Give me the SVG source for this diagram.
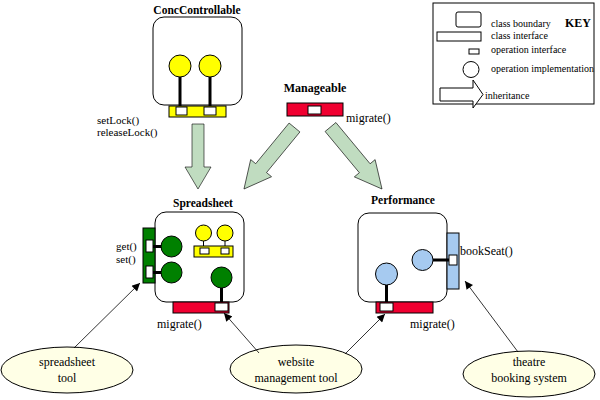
<svg xmlns="http://www.w3.org/2000/svg" width="600" height="400" viewBox="0 0 600 400">
<style>
text{font-family:"Liberation Serif","Times New Roman",serif;fill:#000}
.t{font-size:11.5px;font-weight:bold;text-anchor:middle}
.l{font-size:12px}
.s{font-size:11px}
.k{font-size:10px}
.c{font-size:12px;text-anchor:middle}
.box{fill:#fff;stroke:#000;stroke-width:1}
.sq{fill:#fff;stroke:#000;stroke-width:1}
.stem{stroke:#000;stroke-width:3}
.thin{stroke:#000;stroke-width:1}
.inh{fill:#c0dcc0;stroke:#000;stroke-width:0.6}
.use{fill:#ffffe6;stroke:#000;stroke-width:1}
.red{fill:#f00030;stroke:#000;stroke-width:1}
.yel{fill:#ffff00;stroke:#000;stroke-width:1}
.grn{fill:#008000;stroke:#000;stroke-width:1}
.blu{fill:#a6caf0;stroke:#000;stroke-width:1}
.con{stroke:#000;stroke-width:0.8;fill:none}
</style>
<defs>
<marker id="ah" viewBox="0 0 10 10" refX="10" refY="5" markerWidth="10" markerHeight="8" markerUnits="userSpaceOnUse" orient="auto">
<path d="M0,0 L10,5 L0,10 z" fill="#000"/>
</marker>
</defs>

<g id="key">
<rect x="433" y="3" width="161" height="101" fill="#fff" stroke="#000" stroke-width="1"/>
<rect x="456" y="12" width="25" height="15" rx="2" class="box"/>
<text x="491" y="27" class="k">class boundary</text>
<text x="565" y="27" style="font-size:12px;font-weight:bold">KEY</text>
<rect x="437" y="32" width="44" height="9" class="box"/>
<text x="491" y="39" class="k">class interface</text>
<rect x="469" y="49" width="10" height="5" class="box"/>
<text x="491" y="53" class="k">operation interface</text>
<ellipse cx="471" cy="69.5" rx="8" ry="8" class="box"/>
<text x="491" y="72" class="k">operation implementation</text>
<polygon points="440,88 473,88 473,80 483,94.5 473,108 473,101 440,101" class="box"/>
<text x="485" y="99" class="k">inheritance</text>
</g>

<g id="ConcControllable">
<text x="197" y="14" class="t">ConcControllable</text>
<rect x="153" y="17" width="89" height="88" rx="11" class="box"/>
<line x1="180" y1="77" x2="180" y2="107" class="stem"/>
<line x1="210" y1="77" x2="210" y2="107" class="stem"/>
<circle cx="180" cy="66" r="11" class="yel"/>
<circle cx="210" cy="66" r="11" class="yel"/>
<rect x="169" y="106" width="57" height="11" class="yel"/>
<rect x="176" y="107" width="11" height="8" class="sq"/>
<rect x="204" y="107" width="12" height="8" class="sq"/>
<text x="97" y="124" class="s">setLock()</text>
<text x="97" y="136" class="s">releaseLock()</text>
</g>

<g id="Manageable">
<text x="315" y="92" class="t" style="font-size:12px">Manageable</text>
<rect x="287" y="103" width="56" height="13" class="red"/>
<rect x="308" y="106" width="13" height="8" class="sq"/>
<text x="346" y="122" class="l">migrate()</text>
</g>

<g id="Spreadsheet">
<text x="203" y="207" class="t">Spreadsheet</text>
<rect x="155" y="212" width="89" height="90" rx="11" class="box"/>
<rect x="143" y="228" width="12" height="55" class="grn"/>
<rect x="146" y="240" width="7" height="12" class="sq"/>
<rect x="146" y="266" width="7" height="12" class="sq"/>
<line x1="153" y1="246.5" x2="162" y2="246.5" class="stem"/>
<line x1="153" y1="272.5" x2="162" y2="272.5" class="stem"/>
<circle cx="171.5" cy="246.5" r="10.5" class="grn"/>
<circle cx="171.5" cy="272.5" r="10.5" class="grn"/>
<line x1="203.5" y1="241" x2="203.5" y2="246" class="thin"/>
<line x1="225" y1="241" x2="225" y2="246" class="thin"/>
<circle cx="203.5" cy="233" r="8" class="yel"/>
<circle cx="225" cy="233" r="8" class="yel"/>
<rect x="194" y="246" width="39" height="11" class="yel"/>
<rect x="200" y="248" width="9" height="6" class="sq"/>
<rect x="221" y="248" width="8" height="6" class="sq"/>
<line x1="221.5" y1="288" x2="221.5" y2="303" class="stem"/>
<circle cx="221.5" cy="277.5" r="10.5" class="grn"/>
<rect x="173" y="302" width="56" height="11" class="red"/>
<rect x="215" y="303" width="13" height="8" class="sq"/>
<text x="116" y="250" class="s">get()</text>
<text x="116" y="263" class="s">set()</text>
<text x="157" y="328" class="l">migrate()</text>
</g>

<g id="Performance">
<text x="403" y="204" class="t">Performance</text>
<rect x="358" y="213" width="89" height="89" rx="11" class="box"/>
<rect x="447" y="233" width="12" height="56" class="blu"/>
<rect x="449" y="255" width="8" height="10" class="sq"/>
<line x1="433" y1="260" x2="449" y2="260" class="stem"/>
<circle cx="422.5" cy="260" r="10.5" class="blu"/>
<line x1="386.5" y1="285" x2="386.5" y2="303" class="stem"/>
<circle cx="386.5" cy="274" r="11" class="blu"/>
<rect x="376" y="302" width="57" height="11" class="red"/>
<rect x="380" y="303" width="13" height="8" class="sq"/>
<text x="460" y="255" class="l">bookSeat()</text>
<text x="410" y="328" class="l">migrate()</text>
</g>

<g id="spreadsheet-tool">
<ellipse cx="67" cy="370" rx="66" ry="23" class="use"/>
<text x="67" y="366" class="c">spreadsheet</text>
<text x="67" y="382" class="c">tool</text>
</g>

<g id="website-management-tool">
<ellipse cx="296" cy="369" rx="66" ry="24" class="use"/>
<text x="296" y="366" class="c">website</text>
<text x="296" y="382" class="c">management tool</text>
</g>

<g id="theatre-booking-system">
<ellipse cx="529" cy="374" rx="66" ry="23" class="use"/>
<text x="529" y="366" class="c">theatre</text>
<text x="529" y="382" class="c">booking system</text>
</g>

<g id="connectors">
<polygon points="192,124 204,124 204,167 211,167 198,189 185,167 192,167" class="inh"/>
<polygon transform="translate(294.5,127.5) rotate(39.4)" points="-7,0 7,0 7,52.6 13.5,52.6 0,79.6 -13.5,52.6 -7,52.6" class="inh"/>
<polygon transform="translate(330.5,127) rotate(-39.7)" points="-7,0 7,0 7,53.6 13.5,53.6 0,80.6 -13.5,53.6 -7,53.6" class="inh"/>
<line x1="74" y1="348" x2="140" y2="283" class="con" marker-end="url(#ah)"/>
<line x1="259" y1="353" x2="224" y2="313" class="con" marker-end="url(#ah)"/>
<line x1="345" y1="354" x2="385" y2="314" class="con" marker-end="url(#ah)"/>
<line x1="518" y1="352" x2="465" y2="281" class="con" marker-end="url(#ah)"/>
</g>
</svg>
